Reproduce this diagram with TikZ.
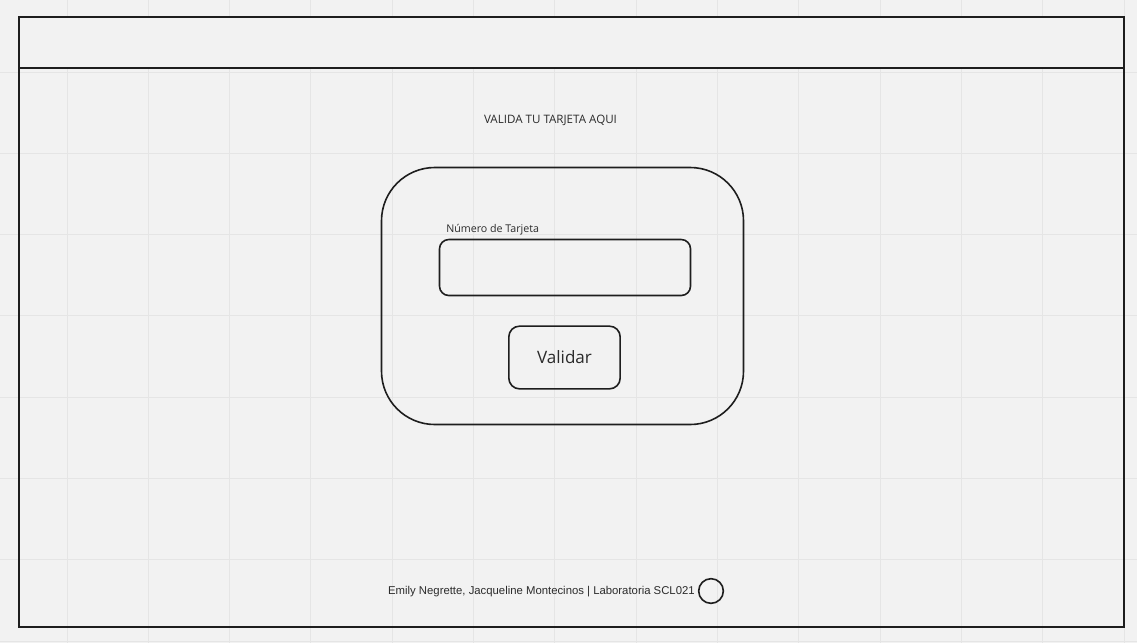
\documentclass[tikz,border=0pt]{standalone}
\usepackage{fontspec}
\setmainfont{Open Sans}
\newfontfamily\footfont{Liberation Sans}
\definecolor{bgc}{HTML}{F2F2F2}
\definecolor{gridc}{HTML}{E5E5E5}
\definecolor{inkc}{HTML}{1E1E1E}
\definecolor{txtc}{HTML}{2B2B2B}
\begin{document}
\begin{tikzpicture}[x=0.75pt,y=-0.75pt,
  frame/.style={draw=inkc,line width=1.5pt},
  box/.style={draw=inkc,line width=1.2pt},
  lbl/.style={inner sep=0pt,text=txtc}]
\fill[bgc] (0,0) rectangle (1137,643);
\useasboundingbox (0,0) rectangle (1137,643);
% grid
\foreach \i in {0,...,13} {\draw[gridc,line width=0.75pt] ({67+81.33*\i},0) -- ({67+81.33*\i},643);}
\foreach \j in {0,...,7} {\draw[gridc,line width=0.75pt] (0,{72+81.33*\j}) -- (1137,{72+81.33*\j});}
% frame
\fill[bgc] (19,17) rectangle (1124,627);
\draw[frame] (19,17) rectangle (1124,627);
\foreach \i in {1,...,13} {\draw[gridc,line width=0.75pt] ({67+81.33*(\i-1)},69) -- ({67+81.33*(\i-1)},626);}
\foreach \j in {0,...,6} {\draw[gridc,line width=0.75pt] (20,{72+81.33*\j}) -- (1123,{72+81.33*\j});}
\coordinate (barL) at (19,68);
\coordinate (barR) at (1124,68);
\draw[inkc,line width=0.9pt] (barL) -- (barR);
% title
\node[lbl,font=\fontsize{8.7pt}{10pt}\selectfont] (title) at (550.5,120) {VALIDA TU TARJETA AQUI};
% card
\draw[box,rounded corners=40pt] (381.5,167.5) rectangle (743.5,424.5);
\node[lbl,anchor=base west,font=\fontsize{8pt}{10pt}\selectfont] (numlbl) at (446,232.5) {Número de Tarjeta};
\draw[box,rounded corners=7pt] (439.5,239.5) rectangle (690.5,295.5);
\node[box,rounded corners=8pt,minimum width=83.5pt,minimum height=47pt,inner sep=0pt,text=txtc,font=\fontsize{12.8pt}{15pt}\selectfont] (validar) at (564.5,357.5) {Validar};
% footer
\node[lbl,anchor=east,font=\footfont\fontsize{8.5pt}{10pt}\selectfont] (foot) at (695,592) {Emily Negrette, Jacqueline Montecinos | Laboratoria SCL021};
\node[draw=inkc,line width=1.2pt,circle,minimum size=18.5pt,inner sep=0pt] (dot) at (711,591) {};
\end{tikzpicture}
\end{document}
